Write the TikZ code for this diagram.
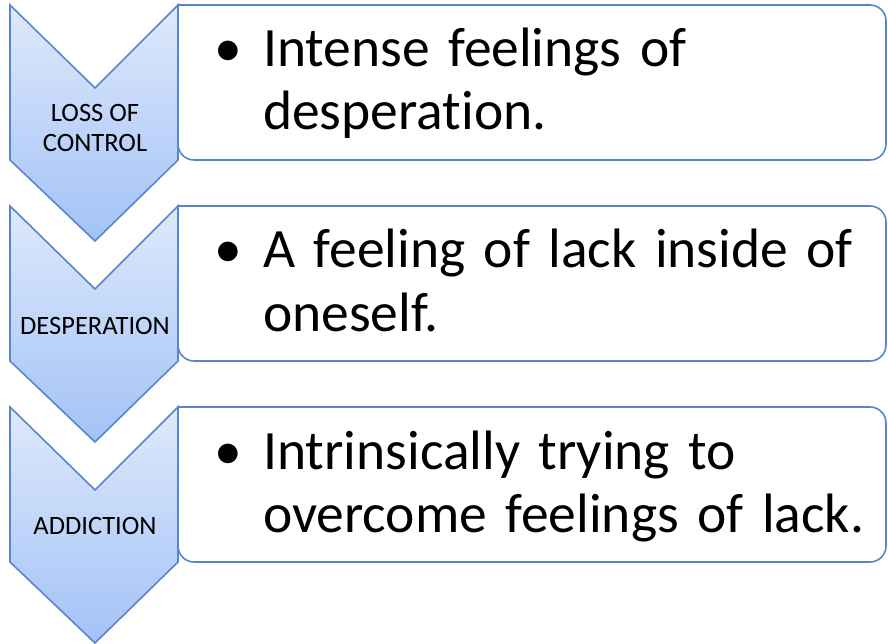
\documentclass[tikz,border=0pt]{standalone}
\usepackage{fontspec}
\setmainfont{Carlito}[Ligatures=NoCommon]
\usepackage{tikz}
\definecolor{edgeblue}{RGB}{88, 134, 202}
\definecolor{chevtop}{RGB}{222, 233, 252}
\definecolor{chevbot}{RGB}{163, 194, 246}

\begin{document}
\begin{tikzpicture}[
  x=1pt, y=-1pt,
  chevron/.style={draw=edgeblue,line width=1.6pt,line join=miter,
                  top color=chevtop,bottom color=chevbot},
  infobox/.style={draw=edgeblue,line width=1.6pt,fill=white},
  steplabel/.style={align=center,font=\fontsize{26.5}{30}\selectfont,inner sep=0pt},
  itemtext/.style={anchor=base west,inner sep=0pt,text width=660pt,align=left,
                   font=\fontsize{55.5}{63}\selectfont}
]
  \useasboundingbox (0,0) rectangle (888,644);

  % boxes on the right
  \foreach \t in {5,206,407}
    \draw[infobox] (178,\t) [rounded corners=16pt] -- (886,\t) -- (886,\t+155)
      -- (178,\t+155) [sharp corners] -- cycle;

  % chevrons on the left
  \foreach \t in {5,206,407}
    \draw[chevron] (10,\t) -- (95,\t+83) -- (178,\t) -- (178,\t+155)
      -- (95,\t+236) -- (10,\t+155) -- cycle;

  \node[steplabel] (loss)  at (95,128) {LOSS OF\\CONTROL};
  \node[steplabel] (desp)  at (95,326) {DESPERATION};
  \node[steplabel] (addic) at (95,526) {ADDICTION};

  \node[itemtext] (lossitem) at (214,67)
    {\makebox[49pt][l]{\textbullet}Intense feelings of\\\hspace*{49pt}desperat\kern0pt ion.};
  \node[itemtext] (despitem) at (214,268)
    {\makebox[49pt][l]{\textbullet}A feeling of lack inside of\\\hspace*{49pt}oneself.};
  \node[itemtext] (addicitem) at (214,469)
    {\makebox[49pt][l]{\textbullet}Intrinsically trying to\\\hspace*{49pt}overcome feelings of lack.};
\end{tikzpicture}
\end{document}
